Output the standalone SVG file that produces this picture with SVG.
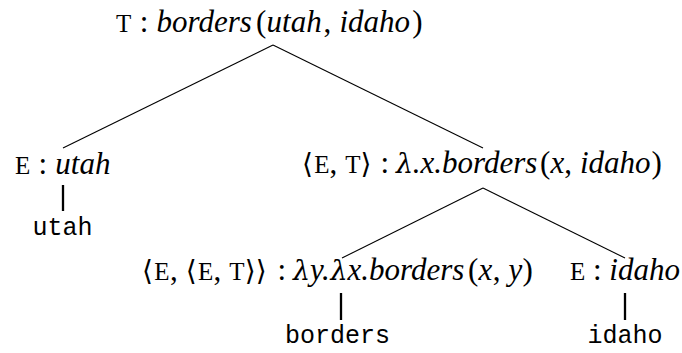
<svg xmlns="http://www.w3.org/2000/svg" width="682" height="353" viewBox="0 0 682 353">
<style>
.e{stroke:#000;stroke-width:1.1;fill:none}
.v{stroke:#000;stroke-width:2.3;fill:none}
</style>
<rect width="682" height="353" fill="#fff"/>
<g id="connectors">
<line class="e" x1="273" y1="45" x2="63" y2="148"/>
<line class="e" x1="273" y1="45" x2="483" y2="148"/>
<line class="e" x1="483" y1="188" x2="342" y2="258"/>
<line class="e" x1="483" y1="188" x2="625" y2="258"/>
<line class="v" x1="63" y1="185" x2="63" y2="211"/>
<line class="v" x1="341" y1="293" x2="341" y2="320"/>
<line class="v" x1="625" y1="293" x2="625" y2="320"/>
</g>
<g id="n-root">
<text x="116" y="32" font-family="Liberation Serif" font-size="25">T</text>
<text x="139.7" y="32" font-family="Liberation Serif" font-size="31">:</text>
<text x="156.5" y="32" font-family="Liberation Serif" font-size="31" font-style="italic">borders</text>
<text x="256" y="32" font-family="Liberation Serif" font-size="31">(</text>
<text x="266.6" y="32" font-family="Liberation Serif" font-size="31" font-style="italic">utah</text>
<text x="323.6" y="32" font-family="Liberation Serif" font-size="31">,</text>
<text x="339.5" y="32" font-family="Liberation Serif" font-size="31" font-style="italic">idaho</text>
<text x="412.3" y="32" font-family="Liberation Serif" font-size="31">)</text>
</g>
<g id="n-utah">
<text x="15" y="174" font-family="Liberation Serif" font-size="25">E</text>
<text x="38.5" y="174" font-family="Liberation Serif" font-size="31">:</text>
<text x="55.3" y="174" font-family="Liberation Serif" font-size="31" font-style="italic">utah</text>
</g>
<g id="n-utah-leaf"><text x="32.5" y="235" font-family="Liberation Mono" font-size="25">utah</text></g>
<g id="n-vp">
<text x="302" y="173" font-family="DejaVu Serif" font-size="28">⟨</text>
<text x="314.2" y="173" font-family="Liberation Serif" font-size="25">E</text>
<text x="329.6" y="173" font-family="Liberation Serif" font-size="31">,</text>
<text x="345.3" y="173" font-family="Liberation Serif" font-size="25">T</text>
<text x="360.5" y="173" font-family="DejaVu Serif" font-size="28">⟩</text>
<text x="380.6" y="173" font-family="Liberation Serif" font-size="31">:</text>
<text x="396" y="173" font-family="DejaVu Serif" font-size="27" font-style="italic">λ</text>
<text x="412.8" y="173" font-family="Liberation Serif" font-size="31" font-style="italic">.x.borders</text>
<text x="539.9" y="173" font-family="Liberation Serif" font-size="31">(</text>
<text x="550.4" y="173" font-family="Liberation Serif" font-size="31" font-style="italic">x</text>
<text x="564.3" y="173" font-family="Liberation Serif" font-size="31">,</text>
<text x="580" y="173" font-family="Liberation Serif" font-size="31" font-style="italic">idaho</text>
<text x="651.4" y="173" font-family="Liberation Serif" font-size="31">)</text>
</g>
<g id="n-borders">
<text x="142" y="280" font-family="DejaVu Serif" font-size="28">⟨</text>
<text x="154.3" y="280" font-family="Liberation Serif" font-size="25">E</text>
<text x="169.9" y="280" font-family="Liberation Serif" font-size="31">,</text>
<text x="185.7" y="280" font-family="DejaVu Serif" font-size="28">⟨</text>
<text x="198" y="280" font-family="Liberation Serif" font-size="25">E</text>
<text x="213.4" y="280" font-family="Liberation Serif" font-size="31">,</text>
<text x="229.2" y="280" font-family="Liberation Serif" font-size="25">T</text>
<text x="244.8" y="280" font-family="DejaVu Serif" font-size="28">⟩⟩</text>
<text x="277.4" y="280" font-family="Liberation Serif" font-size="31">:</text>
<text x="292.9" y="280" font-family="DejaVu Serif" font-size="27" font-style="italic">λ</text>
<text x="309.9" y="280" font-family="Liberation Serif" font-size="31" font-style="italic">y.</text>
<text x="330.6" y="280" font-family="DejaVu Serif" font-size="27" font-style="italic">λ</text>
<text x="347.6" y="280" font-family="Liberation Serif" font-size="31" font-style="italic">x.borders</text>
<text x="468.1" y="280" font-family="Liberation Serif" font-size="31">(</text>
<text x="478.6" y="280" font-family="Liberation Serif" font-size="31" font-style="italic">x</text>
<text x="492.7" y="280" font-family="Liberation Serif" font-size="31">,</text>
<text x="508.5" y="280" font-family="Liberation Serif" font-size="31" font-style="italic">y</text>
<text x="522.5" y="280" font-family="Liberation Serif" font-size="31">)</text>
</g>
<g id="n-borders-leaf"><text x="285" y="343" font-family="Liberation Mono" font-size="25">borders</text></g>
<g id="n-idaho">
<text x="570" y="280" font-family="Liberation Serif" font-size="25">E</text>
<text x="593" y="280" font-family="Liberation Serif" font-size="31">:</text>
<text x="609.3" y="280" font-family="Liberation Serif" font-size="31" font-style="italic">idaho</text>
</g>
<g id="n-idaho-leaf"><text x="587.5" y="343" font-family="Liberation Mono" font-size="25">idaho</text></g>
</svg>
